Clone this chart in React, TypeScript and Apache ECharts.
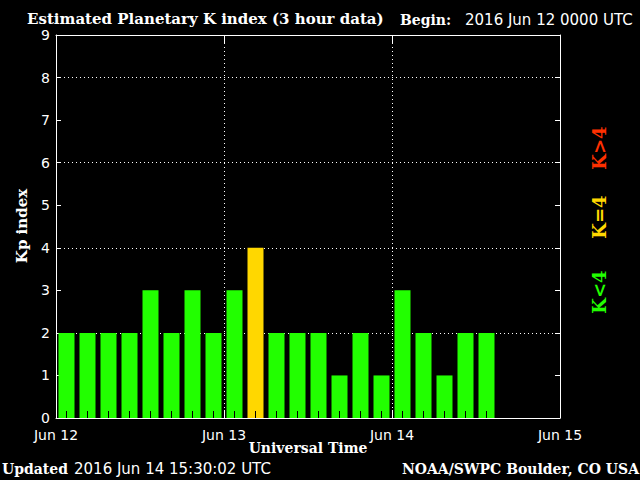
import React, { useEffect, useRef } from "react";
import * as echarts from "echarts";

const DAY_LABELS = ["Jun 12", "Jun 13", "Jun 14", "Jun 15"];
const SLOT_LABELS = [
  "12/00", "12/03", "12/06", "12/09", "12/12", "12/15", "12/18", "12/21",
  "13/00", "13/03", "13/06", "13/09", "13/12", "13/15", "13/18", "13/21",
  "14/00", "14/03", "14/06", "14/09", "14/12", "14/15", "14/18", "14/21",
];
const KP_VALUES = [2, 2, 2, 2, 3, 2, 3, 2, 3, 4, 2, 2, 2, 1, 2, 1, 3, 2, 1, 2, 2];

const GREEN = "#22ff00";
const YELLOW = "#ffd700";
const RED = "#ff3000";
const WHITE = "#ffffff";
const SERIF = "DejaVu Serif";
const SANS = "DejaVu Sans";

function kpColor(v: number) {
  if (v < 4) return GREEN;
  if (v === 4) return YELLOW;
  return RED;
}

export default function App() {
  const ref = useRef<HTMLDivElement>(null);
  useEffect(() => {
    if (!ref.current) return;
    const chart = echarts.init(ref.current, undefined, { renderer: "svg" });
    const dotted = { color: WHITE, width: 1, type: [1, 3] as any };
    const option: any = {
      animation: false,
      backgroundColor: "#000000",
      grid: { left: 56, right: 80, top: 35, bottom: 62, outerBoundsMode: "none" },
      xAxis: [
        {
          type: "value",
          position: "bottom",
          min: 0,
          max: 72,
          interval: 24,
          axisLine: { show: true, onZero: false, lineStyle: { color: WHITE, width: 1 } },
          axisTick: { show: true, inside: true, length: 8, lineStyle: { color: WHITE, width: 1 } },
          axisLabel: {
            show: true,
            color: WHITE,
            fontFamily: SANS,
            fontSize: 14,
            margin: 10,
            formatter: (v: number) => DAY_LABELS[Math.round(v / 24)] ?? "",
          },
          splitLine: { show: true, lineStyle: dotted },
        },
        {
          type: "value",
          position: "top",
          min: 0,
          max: 72,
          interval: 24,
          axisLine: { show: true, onZero: false, lineStyle: { color: WHITE, width: 1 } },
          axisTick: { show: true, inside: true, length: 9, lineStyle: { color: WHITE, width: 1 } },
          axisLabel: { show: false },
          splitLine: { show: false },
        },
        {
          type: "category",
          position: "bottom",
          data: SLOT_LABELS,
          axisLine: { show: false, onZero: false },
          axisTick: { show: false },
          axisLabel: { show: false },
          splitLine: { show: false },
        },
      ],
      yAxis: [
        {
          type: "value",
          position: "left",
          min: 0,
          max: 9,
          interval: 1,
          axisLine: { show: true, onZero: false, lineStyle: { color: WHITE, width: 1 } },
          axisTick: { show: true, inside: true, length: 5, lineStyle: { color: WHITE, width: 1 } },
          axisLabel: { show: true, color: WHITE, fontFamily: SANS, fontSize: 14, margin: 6 },
          splitLine: { show: false },
        },
        {
          type: "value",
          position: "right",
          min: 0,
          max: 9,
          interval: 1,
          axisLine: { show: true, onZero: false, lineStyle: { color: WHITE, width: 1 } },
          axisTick: { show: true, inside: true, length: 5, lineStyle: { color: WHITE, width: 1 } },
          axisLabel: { show: false },
          splitLine: { show: false },
        },
        {
          type: "value",
          position: "left",
          min: 0,
          max: 9,
          interval: 2,
          axisLine: { show: false },
          axisTick: { show: false },
          axisLabel: { show: false },
          splitLine: { show: true, lineStyle: dotted },
        },
      ],
      series: [
        {
          type: "bar",
          xAxisIndex: 2,
          yAxisIndex: 0,
          barWidth: 16,
          data: KP_VALUES.map((v) => ({ value: v, itemStyle: { color: kpColor(v) } })),
        },
        {
          type: "custom",
          xAxisIndex: 2,
          yAxisIndex: 0,
          z: 4,
          silent: true,
          data: KP_VALUES.map((v, i) => [i, v]),
          renderItem: (params: any, api: any) => {
            const p = api.coord([api.value(0), 0]);
            const x = Math.floor(p[0]) + 0.5;
            return {
              type: "line",
              shape: { x1: x, y1: p[1], x2: x, y2: p[1] - 7 },
              style: { stroke: "#000000", lineWidth: 1 },
            };
          },
        },
      ],
      graphic: [
        {
          type: "text",
          x: 27,
          y: 19,
          style: {
            text: "Estimated Planetary K index (3 hour data)",
            fill: WHITE,
            font: `bold 15px "${SERIF}"`,
            textAlign: "left",
            textVerticalAlign: "middle",
          },
        },
        {
          type: "text",
          x: 400,
          y: 20,
          style: {
            text: "Begin:",
            fill: WHITE,
            font: `bold 14px "${SERIF}"`,
            textAlign: "left",
            textVerticalAlign: "middle",
          },
        },
        {
          type: "text",
          x: 465,
          y: 20,
          style: {
            text: "2016 Jun 12 0000 UTC",
            fill: WHITE,
            font: `15px "${SANS}"`,
            textAlign: "left",
            textVerticalAlign: "middle",
          },
        },
        {
          type: "text",
          x: 22,
          y: 226,
          rotation: Math.PI / 2,
          style: {
            text: "Kp index",
            fill: WHITE,
            font: `bold 15px "${SERIF}"`,
            textAlign: "center",
            textVerticalAlign: "middle",
          },
        },
        {
          type: "text",
          x: 308,
          y: 448,
          style: {
            text: "Universal Time",
            fill: WHITE,
            font: `bold 14px "${SERIF}"`,
            textAlign: "center",
            textVerticalAlign: "middle",
          },
        },
        {
          type: "text",
          x: 2,
          y: 469,
          style: {
            text: "Updated",
            fill: WHITE,
            font: `bold 14px "${SERIF}"`,
            textAlign: "left",
            textVerticalAlign: "middle",
          },
        },
        {
          type: "text",
          x: 74,
          y: 469,
          style: {
            text: "2016 Jun 14 15:30:02 UTC",
            fill: WHITE,
            font: `15px "${SANS}"`,
            textAlign: "left",
            textVerticalAlign: "middle",
          },
        },
        {
          type: "text",
          x: 639,
          y: 469,
          style: {
            text: "NOAA/SWPC Boulder, CO USA",
            fill: WHITE,
            font: `bold 14px "${SERIF}"`,
            textAlign: "right",
            textVerticalAlign: "middle",
          },
        },
        {
          type: "text",
          x: 599,
          y: 148,
          rotation: Math.PI / 2,
          style: {
            text: "K>4",
            fill: RED,
            font: `bold 18px "${SERIF}"`,
            textAlign: "center",
            textVerticalAlign: "middle",
          },
        },
        {
          type: "text",
          x: 599,
          y: 217,
          rotation: Math.PI / 2,
          style: {
            text: "K=4",
            fill: YELLOW,
            font: `bold 18px "${SERIF}"`,
            textAlign: "center",
            textVerticalAlign: "middle",
          },
        },
        {
          type: "text",
          x: 599,
          y: 292,
          rotation: Math.PI / 2,
          style: {
            text: "K<4",
            fill: GREEN,
            font: `bold 18px "${SERIF}"`,
            textAlign: "center",
            textVerticalAlign: "middle",
          },
        },
      ],
    };
    chart.setOption(option);
    return () => chart.dispose();
  }, []);
  return (
    <div
      ref={ref}
      style={{ position: "fixed", left: 0, top: 0, width: 640, height: 480, background: "#000" }}
    />
  );
}
